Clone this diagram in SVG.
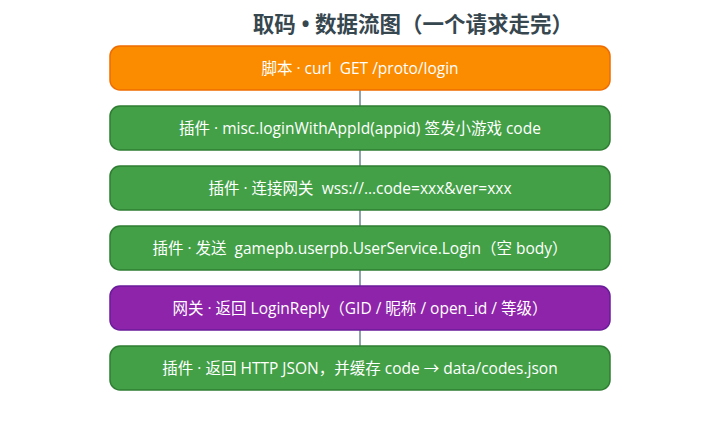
<svg xmlns="http://www.w3.org/2000/svg" width="720" height="430" viewBox="0 0 720 430">
<style>
.title{font-family:"Noto Sans","Noto Sans CJK SC",sans-serif;font-size:21.5px;font-weight:bold;fill:#37474f;text-anchor:middle;white-space:pre}
.lbl{font-family:"Open Sans","Noto Sans CJK SC",sans-serif;font-size:15.5px;fill:#ffffff;text-anchor:middle;white-space:pre}
.box{stroke-width:1.5}
.orange{fill:#fb8c00;stroke:#ef6c00}
.green{fill:#43a047;stroke:#2e7d32}
.purple{fill:#8e24aa;stroke:#6a1b9a}
.conn{stroke:#90a4ae;stroke-width:2;fill:none}
</style>
<rect width="720" height="430" fill="#ffffff"/>
<text class="title" x="413" y="32">取码 • 数据流图（一个请求走完）</text>
<g id="connectors">
<line class="conn" x1="360" y1="90" x2="360" y2="106"/>
<line class="conn" x1="360" y1="150" x2="360" y2="166"/>
<line class="conn" x1="360" y1="210" x2="360" y2="226"/>
<line class="conn" x1="360" y1="270" x2="360" y2="286"/>
<line class="conn" x1="360" y1="330" x2="360" y2="346"/>
</g>
<g id="n1">
<rect class="box orange" x="110" y="46" width="500" height="44" rx="10"/>
<text class="lbl" x="360" y="73.5" xml:space="preserve">脚本 · curl  GET /proto/login</text>
</g>
<g id="n2">
<rect class="box green" x="110" y="106" width="500" height="44" rx="10"/>
<text class="lbl" x="360" y="133.5">插件 · misc.loginWithAppId(appid) 签发小游戏 code</text>
</g>
<g id="n3">
<rect class="box green" x="110" y="166" width="500" height="44" rx="10"/>
<text class="lbl" x="360" y="193.5" xml:space="preserve">插件 · 连接网关  wss://...code=xxx&amp;ver=xxx</text>
</g>
<g id="n4">
<rect class="box green" x="110" y="226" width="500" height="44" rx="10"/>
<text class="lbl" x="360" y="253.5" xml:space="preserve">插件 · 发送  gamepb.userpb.UserService.Login（空 body）</text>
</g>
<g id="n5">
<rect class="box purple" x="110" y="286" width="500" height="44" rx="10"/>
<text class="lbl" x="360" y="313.5">网关 · 返回 LoginReply（GID / 昵称 / open_id / 等级）</text>
</g>
<g id="n6">
<rect class="box green" x="110" y="346" width="500" height="44" rx="10"/>
<text class="lbl" x="360" y="373.5">插件 · 返回 HTTP JSON，并缓存 code → data/codes.json</text>
</g>
</svg>
